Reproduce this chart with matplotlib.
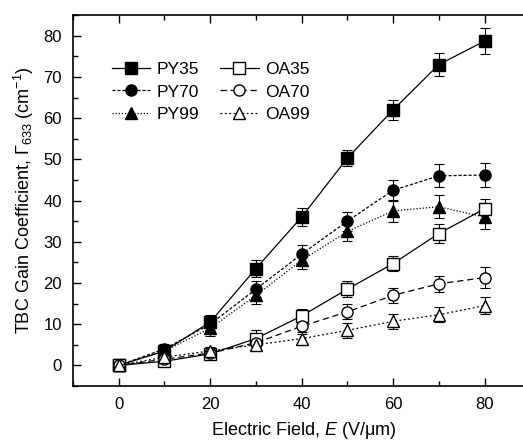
import matplotlib.pyplot as plt
from matplotlib.ticker import MultipleLocator

plt.rcParams['font.family'] = ['Liberation Sans', 'DejaVu Sans']
plt.rcParams['mathtext.fontset'] = 'custom'
plt.rcParams['mathtext.rm'] = 'Liberation Sans'
plt.rcParams['mathtext.it'] = 'Liberation Sans:italic'

field = [0, 10, 20, 30, 40, 50, 60, 70, 80]

py35 = [0, 3.5, 10.5, 23.5, 36, 50.3, 62, 73, 78.7]
py35_err = [0.5, 1.2, 1.8, 2.0, 2.2, 2.0, 2.5, 2.8, 3.2]
py70 = [0, 4, 10, 18.5, 27, 35, 42.5, 46, 46.2]
py70_err = [0.5, 1.2, 1.8, 2.0, 2.2, 2.3, 2.6, 2.8, 2.8]
py99 = [0, 3.5, 9, 17, 25.5, 32.5, 37.5, 38.5, 36]
py99_err = [0.5, 1.0, 1.8, 2.0, 2.2, 2.3, 2.6, 2.8, 2.8]
oa35 = [0, 1, 2.8, 6.5, 12, 18.5, 24.7, 32, 38]
oa35_err = [0.5, 0.8, 1.0, 2.0, 1.8, 2.0, 1.8, 2.2, 2.5]
oa70 = [0, 1.5, 3, 5.5, 9.5, 13, 17, 19.8, 21.3]
oa70_err = [0.5, 0.8, 1.0, 1.5, 1.5, 1.8, 1.8, 2.0, 2.5]
oa99 = [0, 2, 3.5, 5, 6.5, 8.5, 10.7, 12.3, 14.5]
oa99_err = [0.5, 0.8, 1.0, 1.2, 1.0, 1.8, 1.8, 1.8, 2.0]

series = [
    ("PY35", py35, py35_err, "s", "black", "-"),
    ("PY70", py70, py70_err, "o", "black", (0, (2.5, 1.5))),
    ("PY99", py99, py99_err, "^", "black", (0, (1, 1.5))),
    ("OA35", oa35, oa35_err, "s", "white", "-"),
    ("OA70", oa70, oa70_err, "o", "white", (0, (5, 3))),
    ("OA99", oa99, oa99_err, "^", "white", (0, (1.5, 2))),
]

fig = plt.figure(figsize=(5.23, 4.41), dpi=100)
# right spine lies just past the image edge, as in the original crop
ax = fig.add_axes([0.1396, 0.1247, 0.883, 0.841])

for name, y, err, mk, fc, ls in series:
    ax.errorbar(field, y, yerr=err, label=name, color="black", marker=mk,
                markerfacecolor=fc, markeredgecolor="black", markersize=8,
                linestyle=ls, linewidth=0.9, elinewidth=0.8, capsize=3.5,
                capthick=0.8)

ax.set_xlim(-10, 91)
ax.set_ylim(-5, 85)
ax.xaxis.set_major_locator(MultipleLocator(20))
ax.xaxis.set_minor_locator(MultipleLocator(10))
ax.yaxis.set_major_locator(MultipleLocator(10))
ax.yaxis.set_minor_locator(MultipleLocator(5))
ax.tick_params(which="both", direction="in", top=True, right=True,
               labelsize=12, width=1)
ax.tick_params(which="major", length=6, pad=8)
ax.tick_params(which="minor", length=3.5)
for s in ax.spines.values():
    s.set_linewidth(1.2)

ax.set_xlabel("Electric Field, $E$ (V/\u03bcm)", fontsize=13, labelpad=6)
ax.set_ylabel("TBC Gain Coefficient, \u0393$_{633}$ (cm$^{-1}$)",
              fontsize=13, labelpad=5)

handles, labels = ax.get_legend_handles_labels()
handles = [h[0] for h in handles]
ax.legend(handles, labels, ncol=2, frameon=False, fontsize=12.5,
          loc="upper left", bbox_to_anchor=(0.05, 0.915), handlelength=2.2,
          handletextpad=0.4, columnspacing=1.2, labelspacing=0.4)

fig.savefig("out.png", dpi=100)
